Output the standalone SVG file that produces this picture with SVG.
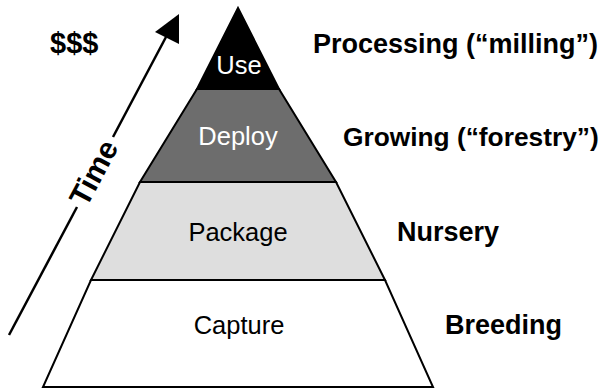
<svg xmlns="http://www.w3.org/2000/svg" width="605" height="388" viewBox="0 0 605 388">
<style>
.band{stroke:#000;stroke-width:2;stroke-linejoin:miter}
.lbl{font-family:"Liberation Sans",Arial,sans-serif;font-size:25.5px;text-anchor:middle}
.side{font-family:"Liberation Sans",Arial,sans-serif;font-size:27px;font-weight:bold;fill:#000}
.conn{stroke:#000;stroke-width:2.5;fill:none}
</style>
<rect width="605" height="388" fill="#fff"/>
<g id="capture">
<polygon class="band" points="91,280 385,280 433,387 43,387" fill="#fff"/>
<text class="lbl" x="239" y="334" fill="#000">Capture</text>
</g>
<g id="package">
<polygon class="band" points="140,182 336,182 385,280 91,280" fill="#dedede"/>
<text class="lbl" x="238" y="241" fill="#000">Package</text>
</g>
<g id="deploy">
<polygon class="band" points="197,89 279,89 336,182 140,182" fill="#6d6d6d"/>
<text class="lbl" x="238" y="145" fill="#fff">Deploy</text>
</g>
<g id="use">
<polygon class="band" points="238,8 279,89 197,89" fill="#000"/>
<text class="lbl" x="239" y="74" fill="#fff">Use</text>
</g>
<g id="labels">
<text class="side" x="50" y="53" style="font-size:29px">$$$</text>
<text class="side" x="313" y="53">Processing (“milling”)</text>
<text class="side" x="343" y="146" style="font-size:26.3px">Growing (“forestry”)</text>
<text class="side" x="397" y="241">Nursery</text>
<text class="side" x="445" y="334">Breeding</text>
</g>
<g id="connectors">
<line class="conn" x1="9" y1="335" x2="77" y2="207"/>
<line class="conn" x1="113" y1="137" x2="166" y2="37"/>
<polygon points="179,14 179,44 155,32" fill="#000"/>
<text class="side" transform="translate(94,173) rotate(-62)" text-anchor="middle" dy="10" style="font-size:30px">Time</text>
</g>
</svg>
